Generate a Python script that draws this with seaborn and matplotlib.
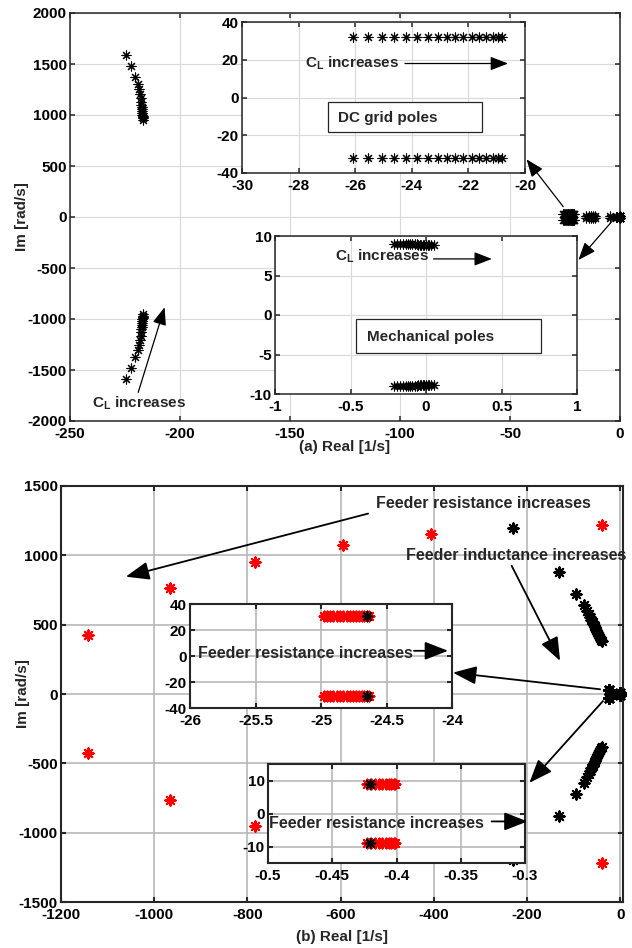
import matplotlib
matplotlib.use("Agg")
import matplotlib.pyplot as plt
from matplotlib.patches import Rectangle
from matplotlib.ticker import FuncFormatter
import numpy as np
import pandas as pd
import seaborn as sns

# ---------------- data : panel (a)  (C_L sweep) ----------------
a_osc_re = [-224.4, -222.3, -220.3, -219.1, -218.6, -218.2, -217.9, -217.7, -217.5,
            -217.4, -217.3, -217.2, -217.1, -217.1, -217.0, -217.0, -217.0, -216.9]
a_osc_im = [1585, 1480, 1375, 1305, 1250, 1205, 1165, 1130, 1100,
            1075, 1055, 1035, 1018, 1003, 990, 978, 966, 955]
a_dc_re = [-26.08, -25.55, -25.06, -24.62, -24.21, -23.82, -23.44, -23.09, -22.76,
           -22.46, -22.18, -21.88, -21.61, -21.38, -21.14, -20.94, -20.82]
a_dc_im = [32.0] * 17
a_mech_re = [-0.21, -0.19, -0.17, -0.15, -0.135, -0.12, -0.105, -0.09, -0.075, -0.06,
             -0.05, -0.04, -0.03, -0.02, -0.01, 0.0, 0.01, 0.02, 0.035, 0.05]
a_mech_im = [9.05, 9.05, 9.0, 9.0, 9.0, 9.0, 8.95, 8.95, 8.95, 8.95,
             8.9, 8.9, 8.9, 8.9, 8.9, 8.85, 8.85, 8.85, 8.85, 8.8]
a_other_re = [-15.4, -14.3, -13.2, -12.2, -11.3, -4.6, -2.0, -1.2]
a_other_im = [12, 12, 11, 11, 10, 5, 4, 3]

a_xticks = [-250, -200, -150, -100, -50, 0]
a_yticks = [-2000, -1500, -1000, -500, 0, 500, 1000, 1500, 2000]
a1_xticks = [-30, -28, -26, -24, -22, -20]
a1_yticks = [-40, -20, 0, 20, 40]
a2_xticks = [-1, -0.5, 0, 0.5, 1]
a2_yticks = [-10, -5, 0, 5, 10]

# ---------------- data : panel (b)  (feeder R and L sweeps) ----------------
b_res_re = [-1143, -967, -783, -595, -406, -38]
b_res_im = [428, 765, 950, 1078, 1155, 1217]
b_ind_re = [-229, -131, -95, -78, -72, -68, -65, -62, -59, -56, -53.5, -51,
            -49, -47, -45, -43, -41, -39.5]
b_ind_im = [1200, 880, 722, 640, 600, 578, 556, 536, 516, 497, 480, 464,
            449, 434, 420, 406, 393, 380]
b_dc_red_re = [-24.98, -24.955, -24.93, -24.905, -24.88, -24.855, -24.83, -24.805,
               -24.78, -24.755, -24.73, -24.71, -24.69, -24.67, -24.65, -24.635]
b_dc_red_im = [30.5] * 16
b_dc_blk_re = [-24.65]
b_dc_blk_im = [30.5]
b_mech_red_re = [-0.423, -0.42, -0.417, -0.414, -0.411, -0.408, -0.406, -0.404,
                 -0.402, -0.401]
b_mech_red_im = [8.8] * 10
b_mech_blk_re = [-0.421]
b_mech_blk_im = [8.8]

b_xticks = [-1200, -1000, -800, -600, -400, -200, 0]
b_yticks = [-1500, -1000, -500, 0, 500, 1000, 1500]
b1_xticks = [-26, -25.5, -25, -24.5, -24]
b1_yticks = [-40, -20, 0, 20, 40]
b2_xticks = [-0.5, -0.45, -0.4, -0.35, -0.3]
b2_yticks = [-10, 0, 10]

# ---------------- style ----------------
sns.set_theme(style="ticks")
plt.rcParams.update({
    "font.family": ["Liberation Sans", "DejaVu Sans"],
    "font.weight": "bold",
    "axes.labelweight": "bold",
    "font.size": 11,
    "axes.unicode_minus": False,
    "mathtext.fontset": "custom",
    "mathtext.rm": "Liberation Sans:bold",
    "mathtext.bf": "Liberation Sans:bold",
    "mathtext.it": "Liberation Sans:bold",
})

AST = (8, 2, 0)
W, H = 632, 948
fig = plt.figure(figsize=(W / 100, H / 100), dpi=100)


def box(l, t, r, b):
    return [l / W, (H - b) / H, (r - l) / W, (b - t) / H]


def both(re):
    """real parts of a conjugate pair list"""
    return list(re) + list(re)


def conj(im):
    """imaginary parts of a conjugate pair list"""
    return list(im) + [-x for x in im]


def stars(ax, re, im, color, s, lw, z=3):
    df = pd.DataFrame({"re": both(re), "im": conj(im)})
    sns.scatterplot(data=df, x="re", y="im", ax=ax, marker=AST, color=color,
                    s=s, linewidth=lw, zorder=z, clip_on=False, legend=False)


fmt = FuncFormatter(lambda v, p: f"{v:g}")


def style(ax, xlim, ylim, xt, yt, lw, gc, glw, fs=11):
    ax.set_xlim(*xlim)
    ax.set_ylim(*ylim)
    ax.set_xticks(xt)
    ax.set_yticks(yt)
    ax.xaxis.set_major_formatter(fmt)
    ax.yaxis.set_major_formatter(fmt)
    ax.grid(True, color=gc, linewidth=glw)
    ax.set_axisbelow(True)
    ax.set_facecolor("white")
    for s in ax.spines.values():
        s.set_visible(True)
        s.set_linewidth(lw)
        s.set_color("#262626")
    ax.tick_params(direction="in", top=True, right=True, length=3.5, width=lw,
                   color="#262626", labelcolor="black", labelsize=fs)
    ax.tick_params(axis="x", pad=4)
    ax.tick_params(axis="y", pad=2.5)
    ax.set_xlabel("")
    ax.set_ylabel("")


def arrow(ax, tail, head, lw, ms):
    ax.annotate("", xy=head, xytext=tail, annotation_clip=False,
                arrowprops=dict(arrowstyle="-|>,head_length=0.9,head_width=0.35",
                                color="black", lw=lw, shrinkA=0, shrinkB=0,
                                mutation_scale=ms))


CL = r"C$_\mathbf{L}$ increases"

# ================= panel (a) =================
ax_a = fig.add_axes(box(70, 13, 620, 421))
stars(ax_a, a_osc_re, a_osc_im, "black", 42, 0.8)
stars(ax_a, a_dc_re, a_dc_im, "black", 42, 0.8)
stars(ax_a, a_other_re, a_other_im, "black", 42, 0.8)
stars(ax_a, a_mech_re, a_mech_im, "black", 42, 0.8)
style(ax_a, (-250, 0), (-2000, 2000), a_xticks, a_yticks, 1.1, "#d9d9d9", 0.8)
ax_a.set_ylabel("Im [rad/s]", fontsize=11, fontweight="bold")
ax_a.yaxis.set_label_coords(-0.075, 0.5)
ax_a.set_xlabel("(a) Real [1/s]", fontsize=11, fontweight="bold")
ax_a.xaxis.set_label_coords(0.5, -0.047)
ax_a.text(-240, -1824, CL, ha="left", va="center", fontsize=11, fontweight="bold")
arrow(ax_a, (-219, -1719), (-207, -885), 0.9, 12)
arrow(ax_a, (-25.8, 101), (-42.5, 566), 0.9, 12)
arrow(ax_a, (-3.8, -46), (-18.9, -422), 0.9, 12)

# inset a1 : DC grid poles
ax_a1 = fig.add_axes(box(242, 22, 525, 173))
stars(ax_a1, a_dc_re, a_dc_im, "black", 42, 0.8)
style(ax_a1, (-30, -20), (-40, 40), a1_xticks, a1_yticks, 1.1, "#d9d9d9", 0.8)
ax_a1.text(-27.76, 18, CL, ha="left", va="center", fontsize=11, fontweight="bold")
arrow(ax_a1, (-24.24, 18), (-20.6, 18), 0.9, 12)
ax_a1.add_patch(Rectangle((-26.96, -18.3), 5.43, 16.1, facecolor="white",
                          edgecolor="#262626", lw=0.9, zorder=4))
ax_a1.text(-26.6, -10.6, "DC grid poles", ha="left", va="center",
           fontsize=11, fontweight="bold", zorder=5)

# inset a2 : mechanical poles
ax_a2 = fig.add_axes(box(275, 236, 577, 394))
stars(ax_a2, a_mech_re, a_mech_im, "black", 42, 0.8)
style(ax_a2, (-1, 1), (-10, 10), a2_xticks, a2_yticks, 1.1, "#d9d9d9", 0.8)
ax_a2.text(-0.602, 7.4, CL, ha="left", va="center", fontsize=11, fontweight="bold")
arrow(ax_a2, (0.05, 7.1), (0.436, 7.1), 0.9, 12)
ax_a2.add_patch(Rectangle((-0.463, -4.85), 1.224, 4.3, facecolor="white",
                          edgecolor="#262626", lw=0.9, zorder=4))
ax_a2.text(-0.392, -2.75, "Mechanical poles", ha="left", va="center",
           fontsize=11, fontweight="bold", zorder=5)

# ================= panel (b) =================
ax_b = fig.add_axes(box(61, 486, 623, 902))
stars(ax_b, b_res_re, b_res_im, "red", 55, 1.5)
stars(ax_b, b_ind_re, b_ind_im, "black", 55, 1.5)
stars(ax_b, b_dc_red_re, b_dc_red_im, "black", 55, 1.5)
stars(ax_b, b_mech_red_re, b_mech_red_im, "black", 55, 1.5)
style(ax_b, (-1200, 6), (-1500, 1500), b_xticks, b_yticks, 1.5, "#b8b8b8", 1.2)
ax_b.set_ylabel("Im [rad/s]", fontsize=11, fontweight="bold")
ax_b.yaxis.set_label_coords(-0.055, 0.5)
ax_b.set_xlabel("(b) Real [1/s]", fontsize=11, fontweight="bold")
ax_b.xaxis.set_label_coords(0.5, -0.067)
ax_b.text(-524, 1374, "Feeder resistance increases", ha="left", va="center",
          fontsize=11.5, fontweight="bold")
arrow(ax_b, (-541, 1301), (-1061, 846), 1.3, 16)
ax_b.text(-459, 998, "Feeder inductance increases", ha="left", va="center",
          fontsize=11.5, fontweight="bold")
arrow(ax_b, (-233, 925), (-129, 239), 1.3, 16)
arrow(ax_b, (-43, 34), (-359, 154), 1.3, 16)
arrow(ax_b, (-37, -51), (-195, -641), 1.3, 16)

# inset b1
ax_b1 = fig.add_axes(box(190, 604, 452, 708))
stars(ax_b1, b_dc_red_re, b_dc_red_im, "red", 50, 1.5)
stars(ax_b1, b_dc_blk_re, b_dc_blk_im, "black", 50, 1.2, z=4)
style(ax_b1, (-26, -24), (-40, 40), b1_xticks, b1_yticks, 1.5, "#b8b8b8", 1.2)
ax_b1.text(-25.94, 2.3, "Feeder resistance increases", ha="left", va="center",
           fontsize=11.5, fontweight="bold")
arrow(ax_b1, (-24.29, 4), (-24.03, 4), 1.3, 16)

# inset b2
ax_b2 = fig.add_axes(box(268, 764, 525, 863))
stars(ax_b2, b_mech_red_re, b_mech_red_im, "red", 50, 1.5)
stars(ax_b2, b_mech_blk_re, b_mech_blk_im, "black", 50, 1.2, z=4)
style(ax_b2, (-0.5, -0.3), (-15, 15), b2_xticks, b2_yticks, 1.5, "#b8b8b8", 1.2)
ax_b2.text(-0.499, -3.1, "Feeder resistance increases", ha="left", va="center",
           fontsize=11.5, fontweight="bold")
arrow(ax_b2, (-0.326, -2.4), (-0.298, -2.4), 1.3, 16)

fig.savefig("out.png", dpi=100, facecolor="white")
